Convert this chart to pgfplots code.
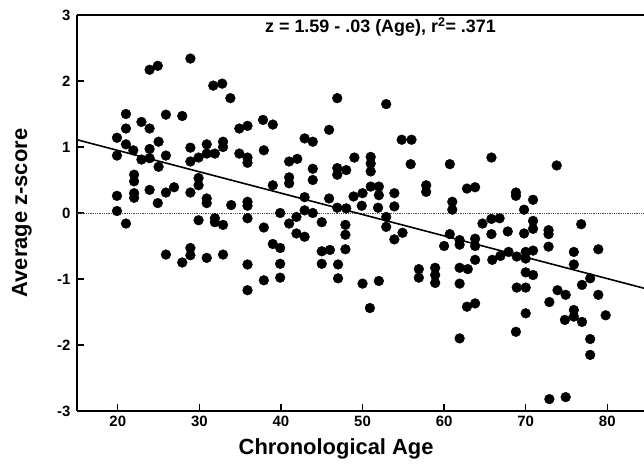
\documentclass[border=0pt]{standalone}
\usepackage{pgfplots}
\pgfplotsset{compat=1.18}
\usepackage{fontspec}
\setmainfont{Liberation Sans}

\pgfplotstableread{
age z
19.9 1.14
21.0 1.50
21.0 1.28
21.0 1.04
21.9 0.95
22.9 1.38
22.9 0.81
23.9 2.17
24.9 2.23
28.9 2.34
31.7 1.93
32.8 1.96
33.8 1.74
25.9 1.49
27.9 1.47
23.9 1.28
37.8 1.41
34.9 1.28
35.9 1.32
25.0 1.08
23.9 0.97
19.9 0.87
23.9 0.83
25.9 0.87
25.0 0.70
28.9 0.99
30.9 1.04
32.9 1.08
32.9 1.00
28.9 0.78
29.9 0.84
30.9 0.90
31.9 0.90
34.9 0.90
35.9 0.84
35.9 0.76
37.9 0.95
22.0 0.58
22.0 0.48
22.0 0.30
22.0 0.23
19.9 0.26
23.9 0.35
25.9 0.31
26.9 0.39
24.9 0.15
28.9 0.31
29.9 0.53
29.9 0.42
30.9 0.22
30.9 0.15
33.9 0.12
35.9 0.17
35.9 0.11
19.9 0.03
21.0 -0.16
29.9 -0.11
31.9 -0.08
31.9 -0.14
32.9 -0.18
35.9 -0.08
37.9 -0.22
25.9 -0.63
27.9 -0.75
28.9 -0.53
28.9 -0.64
30.9 -0.68
32.9 -0.63
35.9 -0.78
35.9 -1.17
37.9 -1.02
46.9 1.74
52.9 1.65
39.0 1.34
45.9 1.26
42.9 1.13
43.9 1.08
41.0 0.78
42.0 0.82
43.9 0.67
43.9 0.50
41.0 0.54
41.0 0.45
39.0 0.42
46.9 0.68
48.0 0.65
46.9 0.58
49.0 0.84
51.0 0.85
51.0 0.75
51.0 0.63
54.8 1.11
56.0 1.11
55.9 0.74
42.9 0.24
45.9 0.22
48.9 0.25
50.0 0.30
51.0 0.40
52.0 0.40
52.0 0.27
53.9 0.30
57.8 0.42
57.8 0.32
39.9 0.00
42.9 0.04
46.9 0.08
48.0 0.07
49.9 0.11
51.9 0.08
53.9 0.10
41.0 -0.16
41.9 -0.06
43.9 0.00
41.9 -0.31
42.9 -0.36
45.0 -0.14
47.9 -0.18
47.9 -0.33
47.9 -0.55
52.9 -0.06
52.9 -0.21
53.9 -0.40
54.9 -0.30
60.0 -0.50
39.0 -0.47
39.9 -0.53
39.9 -0.77
39.9 -0.98
45.0 -0.58
46.0 -0.56
45.0 -0.77
47.0 -0.78
47.0 -0.99
50.0 -1.07
52.0 -1.03
50.9 -1.44
56.9 -0.85
56.9 -0.98
58.9 -0.83
58.9 -0.94
58.9 -1.06
60.7 0.74
65.8 0.84
73.8 0.72
62.8 0.37
63.8 0.39
68.8 0.31
68.8 0.26
70.9 0.20
69.8 0.05
61.0 0.17
61.0 0.05
64.7 -0.16
65.8 -0.09
66.8 -0.08
70.9 -0.12
70.9 -0.24
69.8 -0.31
67.8 -0.28
65.8 -0.32
72.8 -0.26
72.8 -0.32
76.8 -0.17
60.7 -0.32
61.9 -0.41
61.9 -0.48
63.8 -0.39
63.8 -0.50
72.8 -0.51
75.9 -0.59
78.9 -0.55
67.9 -0.59
66.9 -0.65
65.9 -0.71
63.8 -0.71
68.9 -0.66
70.0 -0.59
70.0 -0.69
70.9 -0.57
61.9 -0.83
62.9 -0.85
75.9 -0.78
70.0 -0.90
70.9 -0.94
77.9 -0.99
61.9 -1.07
76.9 -1.09
68.9 -1.13
70.0 -1.13
73.9 -1.17
74.9 -1.24
78.9 -1.24
72.9 -1.35
62.8 -1.42
63.8 -1.37
75.9 -1.47
74.8 -1.62
75.9 -1.57
76.9 -1.65
79.8 -1.55
70.0 -1.52
68.8 -1.80
61.9 -1.90
77.9 -1.91
77.9 -2.15
72.9 -2.82
74.9 -2.79
}\scores

\begin{document}
\begin{tikzpicture}
\begin{axis}[
    scale only axis,
    width=567bp, height=396bp,
    xmin=15, xmax=84.5,
    ymin=-3, ymax=3,
    axis x line=box,
    axis y line=left,
    axis line style={-, line width=1.6bp},
    xtick={20,30,40,50,60,70,80},
    xticklabels={20,30,40,50,60,70,80},
    ytick={-3,-2,-1,0,1,2,3},
    yticklabels={-3,-2,-1,0,1,2,3},
    xtick pos=left, ytick pos=left,
    tick align=inside,
    major tick length=7bp,
    tick style={line width=1.4bp, black},
    ticklabel style={font=\fontsize{15}{15}\selectfont\bfseries},
    xticklabel style={yshift=-2bp},
    yticklabel style={xshift=-3bp},
    xlabel={Chronological Age},
    ylabel={Average z-score},
    label style={font=\fontsize{22}{24}\selectfont\bfseries},
    xlabel style={at={(axis description cs:0.457,-0.111)}, anchor=base},
    ylabel style={at={(axis description cs:-0.088,0.5)}, anchor=base, rotate=0},
    clip=false,
]
\addplot[densely dotted, line width=0.8bp, black!70] coordinates {(15,0) (84.5,0)};
\addplot[black, line width=1.6bp] coordinates {(15,1.11) (84.5,-1.14)};
\addplot[only marks, mark=*, mark size=4.9bp, black] table[x=age, y=z] {\scores};
\node[font=\fontsize{18}{18}\selectfont\bfseries] at (axis cs:52.2,2.82)
    {z = 1.59 - .03 (Age), r\textsuperscript{2}= .371};
\end{axis}
\pgfresetboundingbox
\path[use as bounding box] ([xshift=-77bp,yshift=-56bp]current axis.south west)
    rectangle ([yshift=15bp]current axis.north east);
\end{tikzpicture}
\end{document}
